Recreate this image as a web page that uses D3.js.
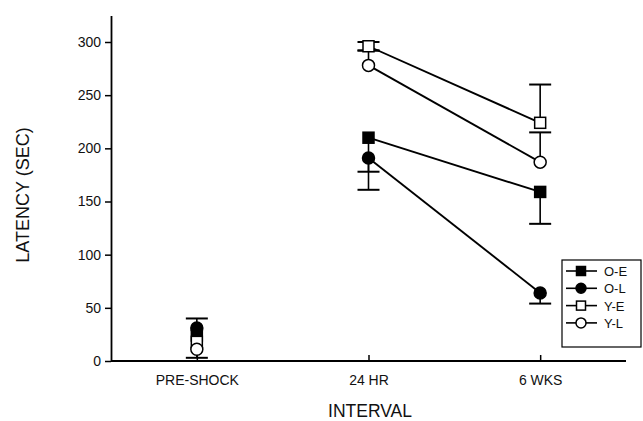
<!DOCTYPE html>
<html>
<head>
<meta charset="utf-8">
<script src="https://cdn.jsdelivr.net/npm/d3@7"></script>
<style>
  body { margin: 0; background: #fff; }
  text { font-family: "Liberation Sans", Arial, sans-serif; fill: #111; }
</style>
</head>
<body>
<div id="chart"></div>
<script>
var width = 643, height = 421;

// data
var intervals = ["PRE-SHOCK", "24 HR", "6 WKS"];
var seriesNames = ["O-E", "O-L", "Y-E", "Y-L"];
var oE = [24, 210, 159];
var oL = [31, 191, 64];
var yE = [18, 296, 224];
var yL = [11, 278, 187];
// error bar lengths, up and down (0 = not drawn)
var oEup = [0, 0, 0],   oEdown = [0, 32, 30];
var oLup = [9, 0, 0],   oLdown = [0, 30, 10];
var yEup = [0, 4, 36],  yEdown = [0, 4, 0];
var yLup = [0, 14, 28], yLdown = [8, 0, 0];
var yTicks = [0, 50, 100, 150, 200, 250, 300];

var series = [
  { name: seriesNames[0], values: oE, up: oEup, down: oEdown, shape: "square", fill: "#000" },
  { name: seriesNames[1], values: oL, up: oLup, down: oLdown, shape: "circle", fill: "#000" },
  { name: seriesNames[2], values: yE, up: yEup, down: yEdown, shape: "square", fill: "#fff" },
  { name: seriesNames[3], values: yL, up: yLup, down: yLdown, shape: "circle", fill: "#fff" }
];

var left = 111, right = 626, top = 15, bottom = 361;

var svg = d3.select("#chart").append("svg")
    .attr("width", width)
    .attr("height", height);

var x = d3.scalePoint().domain(intervals).range([left, right]).padding(0.5);
var y = d3.scaleLinear().domain([0, 325]).range([bottom, bottom - 325 * 319 / 300]);

// axes
var yAxis = svg.append("g")
    .attr("transform", "translate(" + left + ",0)")
    .call(d3.axisLeft(y).tickValues(yTicks).tickSize(6).tickSizeOuter(0).tickPadding(4));
var xAxis = svg.append("g")
    .attr("transform", "translate(0," + bottom + ")")
    .call(d3.axisBottom(x).tickSize(6).tickSizeOuter(0).tickPadding(8));
[yAxis, xAxis].forEach(function(a) {
  a.select(".domain").attr("stroke", "#000").attr("stroke-width", 1.8);
  a.selectAll(".tick line").attr("stroke", "#000").attr("stroke-width", 1.5);
  a.selectAll(".tick text").attr("font-size", 14)
    .attr("font-family", "Liberation Sans, Arial, sans-serif").attr("fill", "#111");
});
xAxis.select(".domain").attr("d", "M" + left + ",0H" + right);
xAxis.selectAll(".tick line").attr("y1", -6).attr("y2", 0);

// axis titles
svg.append("text")
    .attr("x", 370).attr("y", 417)
    .attr("text-anchor", "middle")
    .attr("font-size", 17.5)
    .text("INTERVAL");
svg.append("text")
    .attr("transform", "translate(29,195) rotate(-90)")
    .attr("text-anchor", "middle")
    .attr("font-size", 18)
    .text("LATENCY (SEC)");

function drawMarker(g, shape, fill, cx, cy, size) {
  if (shape === "square") {
    g.append("rect")
      .attr("x", cx - size / 2).attr("y", cy - size / 2)
      .attr("width", size).attr("height", size)
      .attr("fill", fill).attr("stroke", "#000").attr("stroke-width", 1.5);
  } else {
    g.append("circle")
      .attr("cx", cx).attr("cy", cy).attr("r", size / 2 + 0.5)
      .attr("fill", fill).attr("stroke", "#000").attr("stroke-width", 1.5);
  }
}

var capW = 11;
series.forEach(function(s) {
  var g = svg.append("g");
  // lines join 24 HR and 6 WKS only
  g.append("path")
    .datum(s.values.slice(1))
    .attr("d", d3.line()
      .x(function(d, i) { return x(intervals[i + 1]); })
      .y(function(d) { return y(d); }))
    .attr("fill", "none").attr("stroke", "#000").attr("stroke-width", 1.9);
  // error bars
  s.values.forEach(function(v, i) {
    var cx = x(intervals[i]);
    [[s.up[i], 1], [s.down[i], -1]].forEach(function(e) {
      if (!e[0]) return;
      var end = y(v + e[1] * e[0]);
      g.append("line").attr("x1", cx).attr("x2", cx)
        .attr("y1", y(v)).attr("y2", end)
        .attr("stroke", "#000").attr("stroke-width", 1.6);
      g.append("line").attr("x1", cx - capW).attr("x2", cx + capW)
        .attr("y1", end).attr("y2", end)
        .attr("stroke", "#000").attr("stroke-width", 2);
    });
  });
});
series.forEach(function(s) {
  var g = svg.append("g");
  s.values.forEach(function(v, i) {
    drawMarker(g, s.shape, s.fill, x(intervals[i]), y(v), 11);
  });
});

// legend
var legend = svg.append("g");
legend.append("rect")
    .attr("x", 562).attr("y", 260).attr("width", 79).attr("height", 87)
    .attr("fill", "#fff").attr("stroke", "#000").attr("stroke-width", 1.2);
series.forEach(function(s, i) {
  var ly = 271 + i * 17.3;
  legend.append("line").attr("x1", 566).attr("x2", 597)
    .attr("y1", ly).attr("y2", ly)
    .attr("stroke", "#000").attr("stroke-width", 1.6);
  drawMarker(legend, s.shape, s.fill, 581, ly, 9);
  legend.append("text")
    .attr("x", 604).attr("y", ly + 5)
    .attr("font-size", 13)
    .text(s.name);
});
</script>
</body>
</html>
